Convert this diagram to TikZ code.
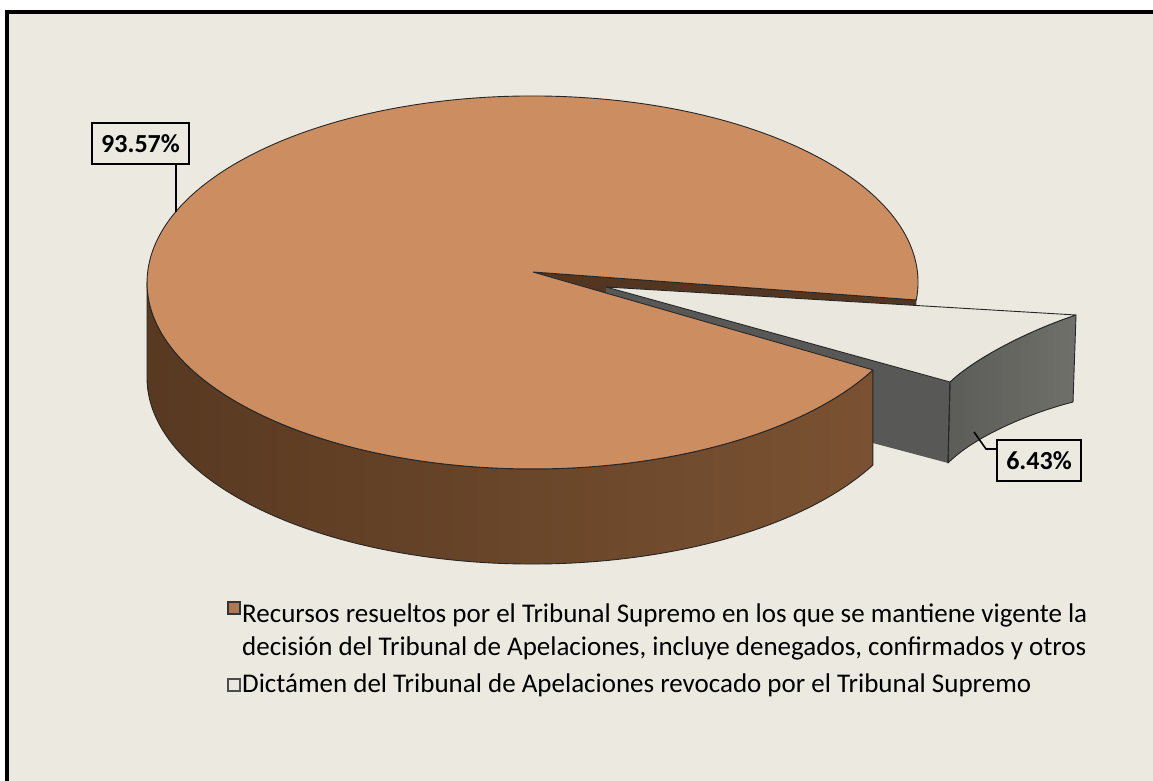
\documentclass[tikz,border=0pt]{standalone}
\usepackage{fontspec}
\setmainfont{Carlito}
\begin{document}
\begin{tikzpicture}[x=1pt,y=1pt,
  edge/.style={draw=black!85,line width=0.9pt,line join=round},
  lbl/.style={draw=black,line width=1.6pt,fill=bg,inner sep=0pt,font=\bfseries\fontsize{26}{30}\selectfont},
  leader/.style={draw=black,line width=1.6pt},
  legtext/.style={anchor=base west,align=left,inner sep=0pt,font=\fontsize{27}{33}\selectfont},
  legmark/.style={minimum width=12pt,minimum height=12pt,inner sep=0pt,line width=1.4pt},
  ell/.style={x radius=385.5,y radius=186.5}]
\definecolor{bg}{RGB}{236,234,224}
\definecolor{topc}{RGB}{204,142,96}
\definecolor{sidel}{RGB}{88,57,33}
\definecolor{sider}{RGB}{122,82,50}
\definecolor{cutc}{RGB}{82,54,33}
\definecolor{lightc}{RGB}{234,231,222}
\definecolor{graysidel}{RGB}{92,92,88}
\definecolor{graysider}{RGB}{112,112,106}
\definecolor{graycut}{RGB}{88,89,86}
\useasboundingbox (0,0) rectangle (1153,-781);
\fill[white] (0,0) rectangle (1153,-781);
\fill[bg] (9,-14) rectangle (1153,-781);
\draw[line width=4pt] (7,-781) -- (7,-12.5) -- (1153,-12.5);
% cut face of big slice (upper edge of gap)
\fill[cutc] (533,-272) -- (916.3,-300) -- (916.3,-395) -- (533,-367) -- cycle;
\draw[edge] (533,-272) -- (916.3,-300);
% exploded small slice
\fill[graycut] (606,-287) -- (950,-382) -- (948,-463) -- (606,-372) -- cycle;
\shade[left color=graysidel,right color=graysider] (950,-382) .. controls (975,-358) and (1030,-330) .. (1076,-315) -- (1073,-402) .. controls (1030,-413) and (975,-436) .. (948,-463) -- cycle;
\draw[edge] (950,-382) .. controls (975,-358) and (1030,-330) .. (1076,-315) -- (1073,-402) .. controls (1030,-413) and (975,-436) .. (948,-463) -- cycle;
\draw[edge] (950,-382) -- (948,-463);
\fill[lightc] (606,-287) -- (1076,-315) .. controls (1030,-330) and (975,-358) .. (950,-382) -- cycle;
\draw[edge] (606,-287) -- (1076,-315) .. controls (1030,-330) and (975,-358) .. (950,-382) -- cycle;
% side of big slice
\shade[left color=sidel,right color=sider] (147,-282.5) arc[ell,start angle=180,end angle=332.02] -- ++(0,-95) arc[ell,start angle=332.02,end angle=180] -- cycle;
\draw[edge] (147,-282.5) arc[ell,start angle=180,end angle=332.02] -- ++(0,-95) arc[ell,start angle=332.02,end angle=180] -- cycle;
% top of big slice
\fill[topc] (533,-272) -- (916.3,-300) arc[ell,start angle=-5.4,end angle=332.02] -- cycle;
\draw[edge] (533,-272) -- (916.3,-300) arc[ell,start angle=-5.4,end angle=332.02] -- cycle;
% data labels
\node[lbl,minimum width=97pt,minimum height=41pt] (l1) at (140.5,-143.5) {93.57\%};
\coordinate (p1) at (176,-212);
\draw[leader] (l1.south -| p1) -- (p1);
\node[lbl,minimum width=84pt,minimum height=41pt] (l2) at (1039,-460.5) {6.43\%};
\coordinate (p2) at (974,-432);
\coordinate (k2) at (986,-449);
\draw[leader] (p2) -- (k2) -- (k2 -| l2.west);
% legend
\node[legmark,draw=black!80,fill=topc!85!black] (m1) at (234,-608) {};
\node[legtext] (t1) at (242,-655) {Recursos resueltos por el Tribunal Supremo en los que se mantiene vigente la\\decisión del Tribunal de Apelaciones, incluye denegados, confirmados y otros};
\node[legmark,draw=black!70,fill=lightc] (m2) at (234,-685) {};
\node[legtext] (t2) at (242,-692) {Dictámen del Tribunal de Apelaciones revocado por el Tribunal Supremo};
\end{tikzpicture}
\end{document}
